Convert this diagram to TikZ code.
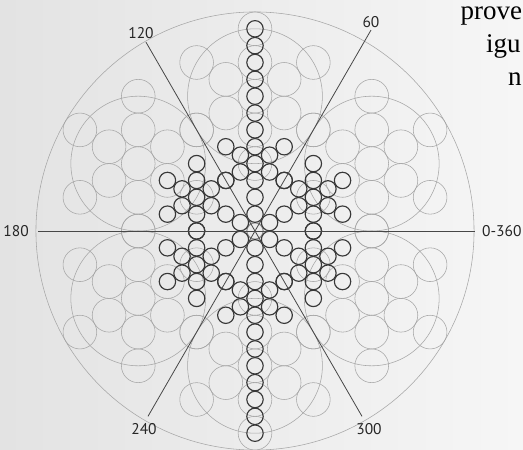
\documentclass[tikz,border=0pt]{standalone}
\usepackage{fontspec}
\setsansfont{PT Sans}
\newfontfamily\bookfont{Liberation Serif}
\usepackage{tikz}
\usetikzlibrary{positioning}

\begin{document}
\begin{tikzpicture}[x=1pt,y=1pt,
    faint/.style={draw=gray!70, line width=0.55pt},
    ring/.style={draw=black!78, line width=1.15pt},
    ray/.style={draw=black!72, line width=0.8pt},
    deg/.style={font=\sffamily\fontsize{15.5}{15.5}\selectfont, text=black!85, inner sep=1pt},
    book/.style={font=\bookfont\fontsize{27}{27}\selectfont, anchor=base west, inner sep=0pt}]
    \def\d{16.85}
    \def\dr{8.2}

    % Paper
    \useasboundingbox (-255,-219) rectangle (268,231);
    \shade[left color=gray!22, right color=gray!7] (-255,-219) rectangle (268,231);

    % Outer ring and the six flowers
    \draw[faint] (0,0) circle ({13*\d});
    \foreach \a in {30,90,...,330} {
        \begin{scope}[shift={(\a:{8*\d})}]
            \draw[faint] (0,0) circle ({4*\d});
            \draw[faint] (0,0) circle (\d);
            \foreach \b in {30,90,...,330} {
                \draw[faint] (\b:{2*\d}) circle (\d);
                \draw[faint] (\b:{4*\d}) circle (\d);
            }
        \end{scope}
    }

    % Snowflake of small rings
    \draw[ring, draw=black!45] (0,0) circle (\dr);
    \foreach \a in {30,90,...,330} {
        \foreach \k in {1,...,6}
            \draw[ring] (\a:{\k*\d}) circle (\dr);
        \foreach \b in {-120,-60,60,120} {
            \foreach \k in {1,2}
                \draw[ring, shift={(\a:{4*\d})}] ({\a+\b}:{\k*\d}) circle (\dr);
        }
    }
    \foreach \k in {7,...,12} {
        \draw[ring] (90:{\k*\d}) circle (\dr);
        \draw[ring] (270:{\k*\d}) circle (\dr);
    }

    % Axes
    \coordinate (O) at (0,0);
    \coordinate (e0) at (0:220);
    \coordinate (e60) at (60:232);
    \coordinate (e120) at (120:218);
    \coordinate (e180) at (180:217);
    \coordinate (e240) at (240:214);
    \coordinate (e300) at (300:214);
    \draw[ray] (e180) -- (e0);
    \draw[ray] (e240) -- (e60);
    \draw[ray] (e300) -- (e120);

    % Labels
    \node[deg, right=6pt of e0] (l0) {0-360};
    \node[deg, above=1pt of e60] (l60) {60};
    \node[deg, above=2pt of e120, xshift=-5pt] (l120) {120};
    \node[deg, left=8pt of e180] (l180) {180};
    \node[deg, below=6pt of e240, xshift=-4pt] (l240) {240};
    \node[deg, below=6pt of e300, xshift=7pt] (l300) {300};

    % Book text at the edge
    \node[book] (t1) at (205.5,211) {prove};
    \node[book] (t2) at (231,178) {igu};
    \node[book] (t3) at (253,145) {n};
\end{tikzpicture}
\end{document}
